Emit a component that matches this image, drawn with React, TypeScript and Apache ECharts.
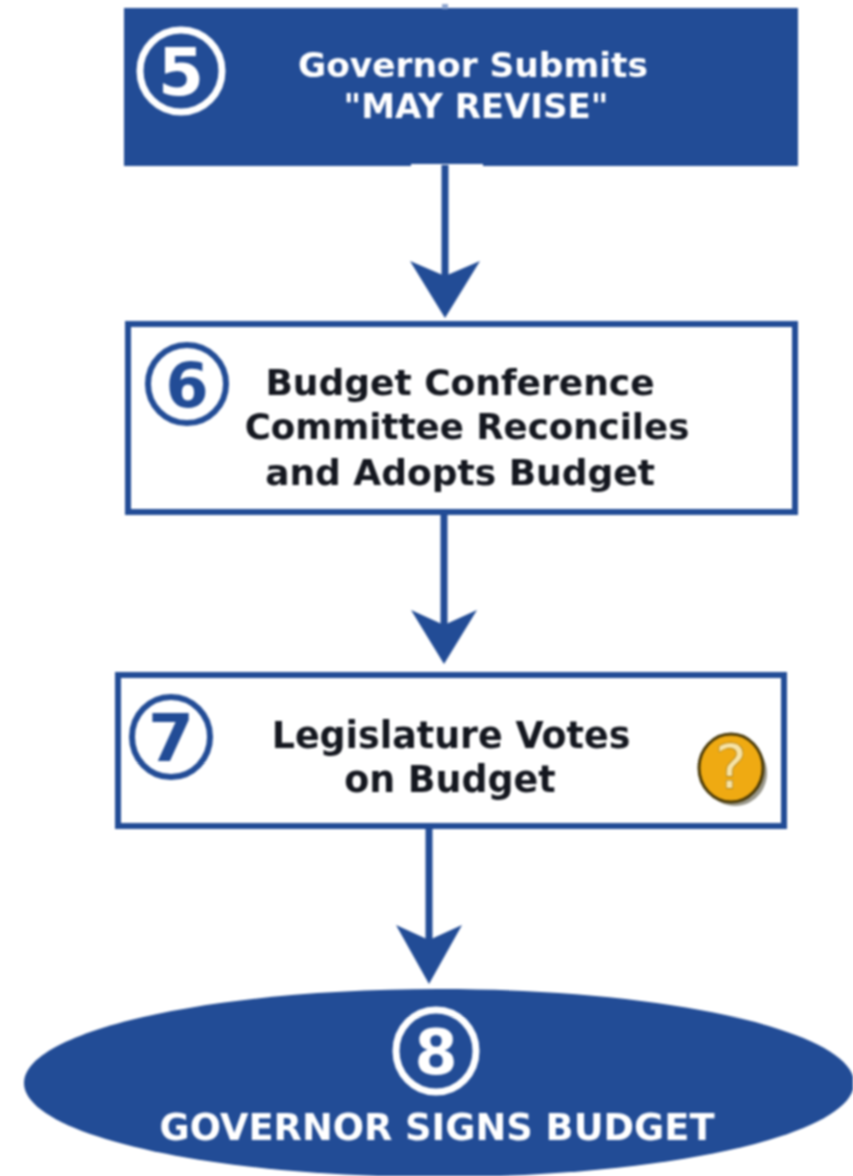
import React, { useEffect, useRef } from "react";
import * as echarts from "echarts";

const stepNumbers = ["5", "6", "7", "8"];
const step5Lines = ["Governor Submits", "\"MAY REVISE\""];
const step6Lines = ["Budget Conference", "Committee Reconciles", "and Adopts Budget"];
const step7Lines = ["Legislature Votes", "on Budget"];
const step8Lines = ["GOVERNOR SIGNS BUDGET"];

const BLUE = "#224c96";
const DARK = "#14171f";
const FONT = "'DejaVu Sans', Verdana, sans-serif";

function textEl(text: string, x: number, y: number, size: number, fill: string, z = 5): any {
  return {
    type: "text", x, y, z,
    style: { text, fill, font: `bold ${size}px ${FONT}`, textAlign: "center", textVerticalAlign: "middle" },
  };
}

function badge(n: string, cx: number, cy: number, rx: number, ry: number, color: string, size: number, lw: number): any[] {
  return [
    { type: "ellipse", z: 4, shape: { cx, cy, rx, ry }, style: { fill: "transparent", stroke: color, lineWidth: lw } },
    textEl(n, cx, cy + 1, size, color),
  ];
}

function arrow(x: number, y0: number, top: number, tip: number, half: number): any[] {
  const notch = top + 15;
  return [
    { type: "line", z: 2, shape: { x1: x, y1: y0, x2: x, y2: notch + 4 }, style: { stroke: BLUE, lineWidth: 7 } },
    {
      type: "polygon", z: 3,
      shape: { points: [[x - half, top], [x, notch], [x + half, top], [x, tip]] },
      style: { fill: BLUE },
    },
  ];
}

function box(x: number, y: number, w: number, h: number): any {
  return { type: "rect", z: 1, shape: { x, y, width: w, height: h }, style: { fill: "#ffffff", stroke: BLUE, lineWidth: 6 } };
}

export default function App() {
  const ref = useRef<HTMLDivElement>(null);
  useEffect(() => {
    const chart = echarts.init(ref.current!, null, { renderer: "svg" });
    const elements: any[] = [
      // Step 5
      { type: "rect", z: 1, shape: { x: 124, y: 8, width: 674, height: 158 }, style: { fill: BLUE } },
      { type: "rect", z: 1, shape: { x: 411, y: 164, width: 72, height: 3 }, style: { fill: "#ffffff" } },
      { type: "line", z: 2, shape: { x1: 445, y1: 4, x2: 445, y2: 9 }, style: { stroke: "#8fa6cf", lineWidth: 6 } },
      ...badge(stepNumbers[0], 181, 71, 41, 41, "#ffffff", 66, 7),
      textEl(step5Lines[0], 473, 65, 34.4, "#ffffff"),
      textEl(step5Lines[1], 476, 106, 34, "#ffffff"),
      ...arrow(445, 165, 261, 318, 35),

      // Step 6
      box(128, 324, 667, 188),
      ...badge(stepNumbers[1], 187, 384, 39, 39, BLUE, 62, 6),
      textEl(step6Lines[0], 460, 382, 36, DARK),
      textEl(step6Lines[1], 467, 426, 35.6, DARK),
      textEl(step6Lines[2], 460, 472, 36, DARK),
      ...arrow(444, 513, 610, 664, 33),

      // Step 7
      box(118, 675, 666, 151),
      ...badge(stepNumbers[2], 171, 737, 39, 40, BLUE, 66, 6),
      textEl(step7Lines[0], 451, 735, 36.4, DARK),
      textEl(step7Lines[1], 450, 779, 36.4, DARK),
      { type: "ellipse", z: 4, shape: { cx: 735, cy: 773, rx: 32, ry: 33 }, style: { fill: "#9a988c" } },
      { type: "ellipse", z: 4, shape: { cx: 731, cy: 768, rx: 32, ry: 34 }, style: { fill: "#efaa12", stroke: "#4a3a08", lineWidth: 3 } },
      {
        type: "text", x: 731, y: 767, z: 5,
        style: {
          text: "?", fill: "#f8e3a4", stroke: "#7a5a10", lineWidth: 1,
          font: `60px ${FONT}`, textAlign: "center", textVerticalAlign: "middle",
        },
      },
      ...arrow(429, 827, 925, 984, 33),

      // Step 8
      { type: "ellipse", z: 1, shape: { cx: 439, cy: 1083, rx: 415, ry: 94 }, style: { fill: BLUE } },
      ...badge(stepNumbers[3], 436, 1051, 40, 41, "#ffffff", 62, 7),
      textEl(step8Lines[0], 437, 1127, 36.8, "#ffffff"),
    ];
    chart.setOption({ animation: false, backgroundColor: "#ffffff", graphic: { elements } });
    return () => chart.dispose();
  }, []);
  return (
    <div
      ref={ref}
      style={{ position: "absolute", left: 0, top: 0, width: 853, height: 1176, filter: "blur(0.9px)" }}
    />
  );
}
